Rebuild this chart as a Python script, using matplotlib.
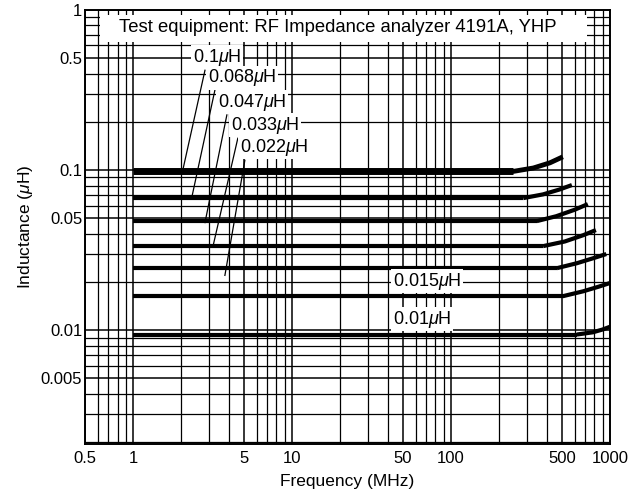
import numpy as np
import matplotlib
matplotlib.use("Agg")
import matplotlib.pyplot as plt
from matplotlib.patches import Rectangle
from matplotlib.ticker import FixedLocator, LogLocator, NullFormatter, FixedFormatter

plt.rcParams['font.family'] = ['Liberation Sans', 'DejaVu Sans']
plt.rcParams['mathtext.fontset'] = 'custom'
plt.rcParams['mathtext.rm'] = 'Liberation Sans'
plt.rcParams['mathtext.it'] = 'Liberation Sans:italic'

# inductance curves (MHz, uH)
freq_1 = [1, 10, 100, 245, 330, 420, 506]
ind_1 = [0.098, 0.098, 0.098, 0.098, 0.103, 0.111, 0.121]
freq_2 = [1, 10, 100, 285, 380, 480, 577]
ind_2 = [0.0668, 0.0668, 0.0668, 0.0668, 0.0705, 0.0755, 0.0806]
freq_3 = [1, 10, 100, 347, 460, 600, 727]
ind_3 = [0.048, 0.048, 0.048, 0.048, 0.0515, 0.0565, 0.0613]
freq_4 = [1, 10, 100, 380, 520, 680, 817]
ind_4 = [0.0335, 0.0335, 0.0335, 0.0335, 0.0358, 0.0392, 0.0422]
freq_5 = [1, 10, 100, 464, 620, 790, 950]
ind_5 = [0.0244, 0.0244, 0.0244, 0.0244, 0.0262, 0.0282, 0.0299]
freq_6 = [1, 10, 100, 505, 680, 850, 1000]
ind_6 = [0.0163, 0.0163, 0.0163, 0.0163, 0.0175, 0.0187, 0.0197]
freq_7 = [1, 10, 100, 620, 780, 900, 1000]
ind_7 = [0.0094, 0.0094, 0.0094, 0.0094, 0.0097, 0.0101, 0.0105]

curves = [(freq_1, ind_1), (freq_2, ind_2), (freq_3, ind_3), (freq_4, ind_4),
          (freq_5, ind_5), (freq_6, ind_6), (freq_7, ind_7)]
flat_widths = [5, 3, 3, 3, 3, 3, 3]
rise_widths = [3.5, 3, 3, 3, 3, 3, 3]

# labels with leader lines: text, text pos, leader start, leader end
labels = ['0.1$\\mu$H', '0.068$\\mu$H', '0.047$\\mu$H', '0.033$\\mu$H', '0.022$\\mu$H']
label_x = [2.38, 2.96, 3.42, 4.13, 4.71]
label_y = [0.508, 0.376, 0.266, 0.191, 0.139]
lead_x0 = [2.84, 3.28, 3.90, 4.57, 5.06]
lead_y0 = [0.42, 0.316, 0.221, 0.158, 0.115]
lead_x1 = [2.06, 2.35, 2.84, 3.18, 3.79]
lead_y1 = [0.1, 0.068, 0.047, 0.033, 0.022]

low_labels = ['0.015$\\mu$H', '0.01$\\mu$H']
low_x = [43.2, 43.2]
low_y = [0.0202, 0.0117]

x_ticks = [0.5, 1, 5, 10, 50, 100, 500, 1000]
x_ticklabels = ['0.5', '1', '5', '10', '50', '100', '500', '1000']
y_ticks = [0.005, 0.01, 0.05, 0.1, 0.5, 1]
y_ticklabels = ['0.005', '0.01', '0.05', '0.1', '0.5', '1']

fig = plt.figure(figsize=(6.3, 4.96), dpi=100)
ax = fig.add_axes([0.135, 0.105, 0.833, 0.875])
ax.set_xscale('log')
ax.set_yscale('log')
ax.set_xlim(0.5, 1000)
ax.set_ylim(0.00195, 1)

ax.xaxis.set_major_locator(FixedLocator(x_ticks))
ax.xaxis.set_major_formatter(FixedFormatter(x_ticklabels))
ax.yaxis.set_major_locator(FixedLocator(y_ticks))
ax.yaxis.set_major_formatter(FixedFormatter(y_ticklabels))
ax.xaxis.set_minor_locator(LogLocator(base=10, subs=np.arange(1, 10)))
ax.yaxis.set_minor_locator(LogLocator(base=10, subs=np.arange(1, 10)))
ax.xaxis.set_minor_formatter(NullFormatter())
ax.yaxis.set_minor_formatter(NullFormatter())
ax.tick_params(which='both', length=0, labelsize=12)
ax.tick_params(axis='x', pad=5)
ax.tick_params(axis='y', pad=2)
ax.grid(True, which='both', color='black', linewidth=0.9)
ax.grid(True, which='major', color='black', linewidth=1.1)
ax.set_axisbelow(True)
for s in ax.spines.values():
    s.set_linewidth(1.4)

# flat part thicker, rising tail a bit thinner
for (f, v), w0, w1 in zip(curves, flat_widths, rise_widths):
    ax.plot(f[:4], v[:4], color='black', linewidth=w0, solid_capstyle='butt', zorder=3)
    ax.plot(f[3:], v[3:], color='black', linewidth=w1, solid_capstyle='butt', zorder=3)

for i in range(len(labels)):
    ax.plot([lead_x0[i], lead_x1[i]], [lead_y0[i], lead_y1[i]], color='black', linewidth=0.9, zorder=4)
for i in range(len(labels)):
    ax.text(label_x[i], label_y[i], labels[i], fontsize=13, ha='left', va='center', zorder=5,
            bbox=dict(facecolor='white', edgecolor='none', pad=1.0))
for i in range(len(low_labels)):
    ax.text(low_x[i], low_y[i], low_labels[i], fontsize=13, ha='left', va='center', zorder=5,
            bbox=dict(facecolor='white', edgecolor='none', pad=1.0))

# white panel behind the heading
ax.add_patch(Rectangle((0.62, 0.63), 717 - 0.62, 0.93 - 0.63, facecolor='white',
                       edgecolor='none', zorder=4))
ax.text(19.5, 0.772, 'Test equipment: RF Impedance analyzer 4191A, YHP', fontsize=13.3,
        ha='center', va='center', zorder=5)

ax.set_xlabel('Frequency (MHz)', fontsize=12.5, labelpad=6)
ax.set_ylabel('Inductance ($\\mu$H)', fontsize=12.5, labelpad=4)

fig.savefig('out.png', dpi=100)
